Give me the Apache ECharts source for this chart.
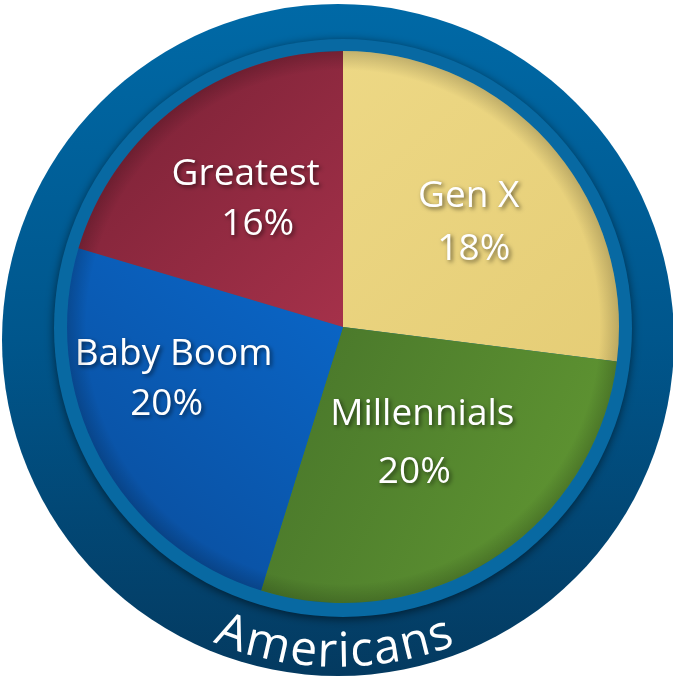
<!DOCTYPE html>
<html><head><meta charset="utf-8">
<script src="https://cdn.jsdelivr.net/npm/echarts@6/dist/echarts.min.js"></script>
<style>html,body{margin:0;padding:0;background:#fff}#c{width:673px;height:681px}</style>
</head><body><div id="c"></div>
<script>
// ---- data ----
const categories = ['Gen X', 'Millennials', 'Baby Boom', 'Greatest'];
const sliceValues = [27.0, 27.8, 24.8, 20.4];   // slice sizes
const shareLabels = [18, 20, 20, 16];           // percentages printed on the slices
const groupTitle = 'Americans';

// ---- styles / layout (not data) ----
const FONT = '"Open Sans", "Noto Sans", sans-serif';
const G = echarts.graphic;
const sliceFills = [
  new G.LinearGradient(0, 0, 1, 1, [{offset: 0, color: '#EDD885'}, {offset: 1, color: '#E5CD76'}]),
  new G.LinearGradient(0, 0, 1, 0.6, [{offset: 0, color: '#47742A'}, {offset: 1, color: '#609632'}]),
  new G.LinearGradient(1, 0, 0, 1, [{offset: 0, color: '#0A68CB'}, {offset: 1, color: '#0A4B98'}]),
  new G.LinearGradient(0, 0, 1, 1, [{offset: 0, color: '#762034'}, {offset: 1, color: '#A5314A'}])
];
const labelTweaks = [
  {dx: 20, dy: -11, lh: 53, shift: 5},
  {dx: 3, dy: -2, lh: 58, shift: -8},
  {dx: -45, dy: -14, lh: 50, shift: -7},
  {dx: -13, dy: -15, lh: 50, shift: 12}
];
const ring = {cx: 338, cy: 340, r: 336};
const pie = {cx: 343, cy: 327, r: 276, band: 289};

const shadowText = {
  textShadowColor: 'rgba(0,0,0,0.55)', textShadowBlur: 4,
  textShadowOffsetX: 2, textShadowOffsetY: 2
};

const data = categories.map((name, i) => {
  const t = labelTweaks[i];
  const pad = t.shift >= 0 ? [0, 0, 0, 2 * t.shift] : [0, -2 * t.shift, 0, 0];
  return {
    name: name,
    value: sliceValues[i],
    itemStyle: {color: sliceFills[i]},
    label: {
      formatter: '{n|' + name + '}\n{p|' + shareLabels[i] + '%}',
      rich: {
        n: Object.assign({fontSize: 37, fontFamily: FONT, color: '#fff', lineHeight: t.lh, align: 'center'}, shadowText),
        p: Object.assign({fontSize: 37, fontFamily: FONT, color: '#fff', lineHeight: t.lh, align: 'center', padding: pad}, shadowText)
      }
    }
  };
});

// ---- curved title letters ----
const ctx = document.createElement('canvas').getContext('2d');
const titleSize = 48;
ctx.font = titleSize + 'px "Open Sans"';
const letters = groupTitle.split('');
const widths = letters.map(ch => ctx.measureText(ch).width);
const spacing = 0.5;
const total = widths.reduce((a, b) => a + b, 0) + spacing * (letters.length - 1);
const Rm = 313;
const titleShift = -4;
let acc = -total / 2 + titleShift;
const titleEls = letters.map((ch, i) => {
  const c = acc + widths[i] / 2;
  acc += widths[i] + spacing;
  const phi = c / Rm;
  return {
    type: 'text', z: 20, silent: true,
    x: ring.cx + Rm * Math.sin(phi),
    y: ring.cy + Rm * Math.cos(phi),
    rotation: phi,
    style: {
      text: ch, fill: '#fff', fontSize: titleSize, fontFamily: FONT,
      align: 'center', verticalAlign: 'middle',
      shadowColor: 'rgba(0,0,0,0.6)', shadowBlur: 4, shadowOffsetX: 2, shadowOffsetY: 2
    }
  };
});

const chart = echarts.init(document.getElementById('c'), null, {renderer: 'canvas'});
chart.setOption({
  backgroundColor: '#fff',
  animation: false,
  graphic: [
    {type: 'circle', z: -10, silent: true, shape: {cx: ring.cx, cy: ring.cy, r: ring.r},
      style: {fill: new G.LinearGradient(0, 0, 0, 1, [{offset: 0, color: '#0069A6'}, {offset: 0.5, color: '#00568C'}, {offset: 1, color: '#043A60'}])}},
    {type: 'circle', z: -9, silent: true, shape: {cx: pie.cx, cy: pie.cy + 1, r: pie.band},
      style: {fill: '#0869A2', shadowBlur: 10, shadowColor: 'rgba(0,0,0,0.55)', shadowOffsetY: 2}},
    {type: 'circle', z: 5, silent: true, shape: {cx: pie.cx, cy: pie.cy, r: pie.r},
      style: {fill: new G.RadialGradient(0.5, 0.5, 0.5, [{offset: 0.93, color: 'rgba(0,0,0,0)'}, {offset: 1, color: 'rgba(0,0,0,0.18)'}])}}
  ].concat(titleEls),
  series: [{
    type: 'pie',
    center: [pie.cx, pie.cy],
    radius: pie.r,
    startAngle: 90,
    clockwise: true,
    z: 2,
    label: {show: true, position: 'inside', color: '#fff'},
    labelLine: {show: false},
    labelLayout: function (p) { const t = labelTweaks[p.dataIndex]; return {dx: t.dx, dy: t.dy}; },
    emphasis: {disabled: true},
    data: data
  }]
});
</script></body></html>
